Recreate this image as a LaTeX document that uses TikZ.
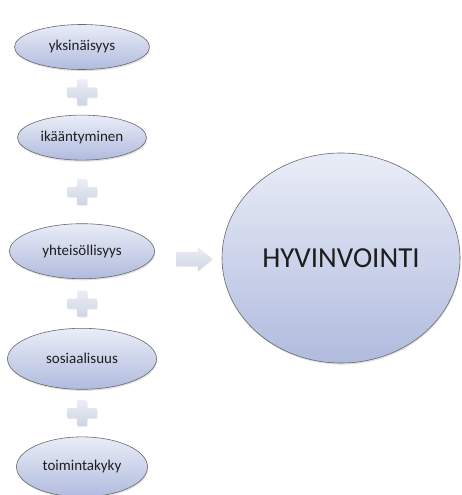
\documentclass[tikz,border=0pt]{standalone}
\usepackage{fontspec}
\setmainfont{Carlito}
\usepackage{tikz}
\usetikzlibrary{shapes.geometric, shapes.arrows, shadows, positioning, calc}

\definecolor{ellTop}{RGB}{234,237,247}
\definecolor{ellBot}{RGB}{176,187,222}
\definecolor{ellLine}{RGB}{105,105,110}
\definecolor{plusTop}{RGB}{236,238,246}
\definecolor{plusBot}{RGB}{206,212,229}
\definecolor{txt}{RGB}{30,30,30}

\begin{document}
\begin{tikzpicture}[
    x=1pt, y=-1pt,
    oval/.style={ellipse, draw=ellLine, line width=0.6pt, top color=ellTop, bottom color=ellBot,
        inner sep=0pt, align=center, text=txt, font=\fontsize{15}{18}\selectfont,
        drop shadow={shadow xshift=0.6pt, shadow yshift=-1.6pt, opacity=0.25, fill=gray}},
    bigoval/.style={oval, font=\fontsize{29}{34}\selectfont},
    blockarrow/.style={single arrow, draw=none, top color=plusTop, bottom color=plusBot,
        inner sep=7pt, single arrow head extend=5pt, single arrow tip angle=80,
        minimum height=36pt, shape border rotate=0,
        drop shadow={shadow xshift=0.5pt, shadow yshift=-1pt, opacity=0.15, fill=gray}},
    pics/plussign/.style={code={
        \shade[top color=plusTop, bottom color=plusBot, rounded corners=1pt,
            drop shadow={shadow xshift=0.5pt, shadow yshift=-1pt, opacity=0.15, fill=gray}]
            (-15,-5) -- (-5,-5) -- (-5,-13) -- (5,-13) -- (5,-5) -- (15,-5) -- (15,5)
            -- (5,5) -- (5,13) -- (-5,13) -- (-5,5) -- (-15,5) -- cycle;
    }},
]
\useasboundingbox (0,0) rectangle (462,495);

% Nodes
\node[oval, minimum width=135pt, minimum height=45pt] (yksin) at (82,47) {yksinäisyys};
\node[oval, minimum width=129pt, minimum height=45pt, below=45pt of yksin] (ikaant) {ikääntyminen};
\node[oval, minimum width=145pt, minimum height=55pt, below=63pt of ikaant] (yhteis) {yhteisöllisyys};
\node[oval, minimum width=149pt, minimum height=61pt, below=49pt of yhteis] (sosiaal) {sosiaalisuus};
\node[oval, minimum width=131pt, minimum height=60pt, below=47pt of sosiaal] (toimkyky) {toimintakyky};

\node[bigoval, minimum width=238pt, minimum height=210pt] (hyvinv) at (341,258) {HYVINVOINTI};

% Plus signs
\pic (plus1) at ($(yksin.south)!0.5!(ikaant.north)$) {plussign};
\pic (plus2) at ($(ikaant.south)!0.5!(yhteis.north)$) {plussign};
\pic (plus3) at ($(yhteis.south)!0.5!(sosiaal.north)$) {plussign};
\pic (plus4) at ($(sosiaal.south)!0.5!(toimkyky.north)$) {plussign};

% Arrow
\node[blockarrow] (toHyv) at (190,259) {};

\end{tikzpicture}
\end{document}
